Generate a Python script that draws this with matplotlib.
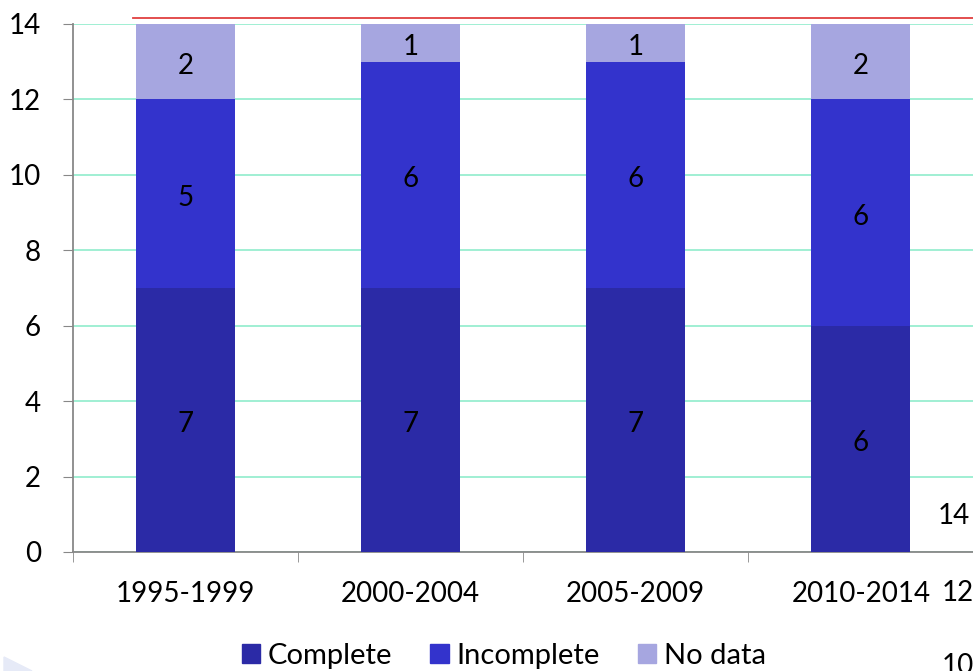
import numpy as np
import matplotlib
matplotlib.use("Agg")
from matplotlib import pyplot as plt
from matplotlib.lines import Line2D
from matplotlib.patches import Polygon

periods = ["1995-1999", "2000-2004", "2005-2009", "2010-2014"]
complete = [7, 7, 7, 6]
incomplete = [5, 6, 6, 6]
no_data = [2, 1, 1, 2]

series_names = ["Complete", "Incomplete", "No data"]
series_colors = ["#2B2AA6", "#3333CC", "#A6A6E0"]

W, H = 973, 671
FS = 20


def main():
    plt.rcParams["font.family"] = ["Lato", "DejaVu Sans"]
    fig = plt.figure(figsize=(W / 100, H / 100), dpi=100)
    ax = fig.add_axes([73 / W, (H - 552) / H, (978 - 73) / W, (552 - 24) / H])

    x = np.arange(len(periods))
    bottom = np.zeros(len(periods))
    for vals, name, col in zip([complete, incomplete, no_data], series_names, series_colors):
        vals = np.array(vals, dtype=float)
        ax.bar(x, vals, 0.44, bottom=bottom, color=col, label=name, zorder=3)
        for xi, b, v in zip(x, bottom, vals):
            ax.annotate(str(int(v)), (xi, b + v / 2), xytext=(0, -3),
                        textcoords="offset points", ha="center", va="center",
                        fontsize=FS, color="black", zorder=4)
        bottom += vals

    setup_axis(ax, x)

    handles = [plt.Rectangle((0, 0), 1, 1, color=c) for c in series_colors]
    fig.legend(handles, series_names, loc="center", bbox_to_anchor=(504 / W, 1 - 656 / H),
               ncol=3, frameon=False, fontsize=21, handlelength=0.62, handleheight=0.62,
               handletextpad=0.28, columnspacing=1.3)

    # red line above the plot
    fig.add_artist(Line2D([133 / W, 1.0], [1 - 18 / H, 1 - 18 / H], color="#E04040", lw=1.3))

    # stray labels from a neighbouring chart
    fig.text(938 / W, 1 - 516 / H, "14", fontsize=FS, va="center", ha="left")
    fig.text(942 / W, 1 - 593 / H, "12", fontsize=FS, va="center", ha="left")
    fig.text(942 / W, 1 - 653 / H, "10", fontsize=FS, va="top", ha="left")

    fig.add_artist(Polygon([[4 / W, 1 - 657 / H], [32 / W, 0], [4 / W, 0]],
                           closed=True, color="#E6EAF7", transform=fig.transFigure))

    fig.savefig("out.png", dpi=100)


def setup_axis(ax, x):
    ax.set_xlim(-0.5, 3.52)
    ax.set_ylim(0, 14)
    ax.set_yticks(range(0, 15, 2))
    ax.set_xticks(x)
    ax.set_xticklabels(periods)
    ax.set_xticks(np.arange(-0.5, 4, 1.0), minor=True)
    ax.tick_params(axis="x", which="major", length=0, pad=21, labelsize=FS)
    ax.tick_params(axis="x", which="minor", length=7, color="#888888", direction="out")
    ax.tick_params(axis="y", length=7, color="#888888", labelsize=FS, pad=16)
    ax.grid(axis="y", color="#99EED0", lw=1.3, zorder=0)
    for side in ["top", "right"]:
        ax.spines[side].set_visible(False)
    for side in ["left", "bottom"]:
        ax.spines[side].set_color("#888888")
        ax.spines[side].set_linewidth(1.3)


if __name__ == '__main__':
    main()
